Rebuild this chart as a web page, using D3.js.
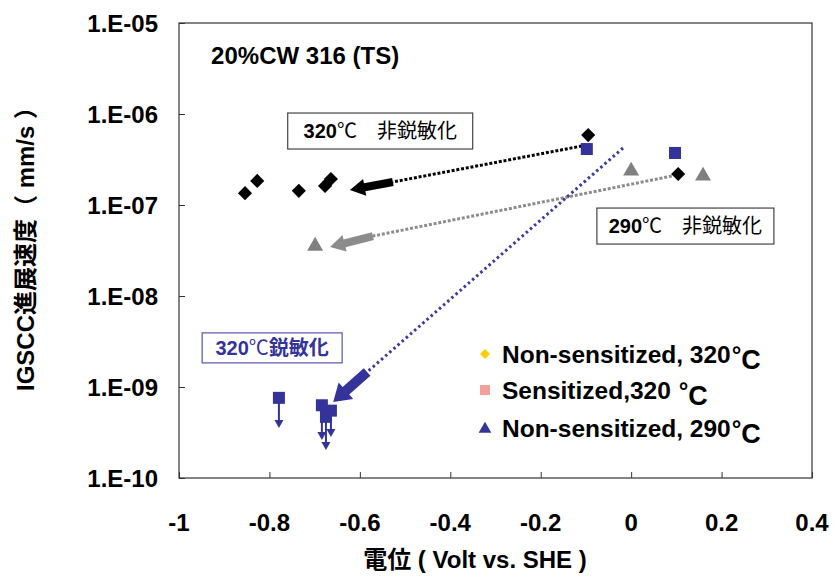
<!DOCTYPE html>
<html><head><meta charset="utf-8">
<script src="https://cdn.jsdelivr.net/npm/d3@7"></script>
<style>
html,body{margin:0;padding:0;background:#fff;}
text{font-family:"Liberation Sans",Arial,"Noto Sans CJK JP",sans-serif;}
</style></head>
<body><svg id="c" width="833" height="579"></svg>
<script>
// ---- data ----
const xTicks = [-1, -0.8, -0.6, -0.4, -0.2, 0, 0.2, 0.4];
const xTickLabels = ["-1", "-0.8", "-0.6", "-0.4", "-0.2", "0", "0.2", "0.4"];
const yTicks = [1e-5, 1e-6, 1e-7, 1e-8, 1e-9, 1e-10];
const yTickLabels = ["1.E-05", "1.E-06", "1.E-07", "1.E-08", "1.E-09", "1.E-10"];

// Non-sensitized 320C (potential V, rate mm/s)
const ns320 = [[-0.854, 1.35e-7], [-0.827, 1.84e-7], [-0.735, 1.43e-7], [-0.677, 1.62e-7], [-0.664, 1.93e-7], [-0.095, 5.87e-7], [0.104, 2.19e-7]];
// Sensitized 320C
const sens320 = [[-0.098, 4.12e-7], [0.097, 3.73e-7], [-0.779, 7.6e-10], [-0.684, 6.3e-10], [-0.675, 4.7e-10], [-0.664, 5.5e-10]];
// lower end of upper-limit arrows (null = no arrow)
const sens320ArrowTo = [null, null, 3.54e-10, 2.62e-10, 2.03e-10, 2.83e-10];
// Non-sensitized 290C
const ns290 = [[-0.699, 3.63e-8], [0.0, 2.43e-7], [0.159, 2.14e-7]];

// trend lines: dotted start, arrow tail, arrow tip
const trendNames = ["ns320", "ns290", "sens320"];
const trendStart = [[-0.109, 4.45e-7], [0.09, 2.08e-7], [-0.018, 4.23e-7]];
const trendTail = [[-0.527, 1.79e-7], [-0.571, 4.56e-8], [-0.584, 1.46e-9]];
const trendTip = [[-0.622, 1.46e-7], [-0.666, 3.45e-8], [-0.659, 6.84e-10]];

// annotation boxes
const boxCenters = [[-0.555, 6.5e-7], [0.120, 5.87e-8], [-0.794, 2.69e-9]];
const boxNum = ["320", "290", "320"];
const boxRest = ["\u3000非鋭敏化", "\u3000非鋭敏化", "鋭敏化"];

const titleText = "20%CW 316 (TS)";
const titlePos = [-0.929, 3.55e-6];
const legendLabels = ["Non-sensitized, 320", "Sensitized,320 ", "Non-sensitized, 290"];
const xTitle = "電位 ( Volt vs. SHE )";
const yTitle = "IGSCC進展速度（ mm/s ）";

// ---- layout ----
const L = 179, R = 812, T = 23, B = 478;
const svg = d3.select("#c");
svg.append("rect").attr("width", 833).attr("height", 579).attr("fill", "#fff");
const x = d3.scaleLinear().domain([-1, 0.4]).range([L, R]);
const y = d3.scaleLog().domain([1e-10, 1e-5]).range([B, T]);

const C = {ns320: "#000000", ns290: "#808080", sens320: "#333399"};
const trendColor = ["#000000", "#8c8c8c", "#3a3a9a"];

// frame
svg.append("rect").attr("x", L).attr("y", T).attr("width", R - L).attr("height", B - T)
  .attr("fill", "none").attr("stroke", "#333").attr("stroke-width", 1.2);

// axes (ticks inside)
const gx = svg.append("g").attr("transform", `translate(0,${B})`)
  .call(d3.axisTop(x).tickValues(xTicks).tickSize(6).tickFormat(""));
gx.select(".domain").remove();
gx.selectAll("line").attr("stroke", "#333");
svg.selectAll(".xl").data(xTicks).enter().append("text")
  .attr("x", d => x(d)).attr("y", 531).attr("text-anchor", "middle")
  .attr("font-size", 24).attr("font-weight", "bold").text((d, i) => xTickLabels[i]);

const gy = svg.append("g").attr("transform", `translate(${L},0)`)
  .call(d3.axisRight(y).tickValues(yTicks).tickSize(6).tickFormat(""));
gy.select(".domain").remove();
gy.selectAll("line").attr("stroke", "#333");
svg.selectAll(".yl").data(yTicks).enter().append("text")
  .attr("x", 158).attr("y", d => y(d) + 8.5).attr("text-anchor", "end")
  .attr("font-size", 24).attr("font-weight", "bold").text((d, i) => yTickLabels[i]);

// axis titles
svg.append("text").attr("x", 475).attr("y", 568).attr("text-anchor", "middle")
  .attr("font-size", 24).attr("font-weight", "bold").text(xTitle);
svg.append("text").attr("transform", "translate(34,243) rotate(-90)").attr("text-anchor", "middle")
  .attr("font-size", 24).attr("font-weight", "bold").text(yTitle);

// title
svg.append("text").attr("x", x(titlePos[0])).attr("y", y(titlePos[1]))
  .attr("font-size", 24).attr("font-weight", "bold").text(titleText);

// dotted trend lines
trendNames.forEach((n, i) => {
  svg.append("line")
    .attr("x1", x(trendStart[i][0])).attr("y1", y(trendStart[i][1]))
    .attr("x2", x(trendTail[i][0])).attr("y2", y(trendTail[i][1]))
    .attr("stroke", trendColor[i]).attr("stroke-width", 3)
    .attr("stroke-dasharray", i === 2 ? "2.5,3" : "3,1.8");
});

// markers
const diamond = d3.symbol().type(d3.symbolSquare).size(100);
svg.selectAll(".ns320").data(ns320).enter().append("path")
  .attr("d", diamond).attr("fill", C.ns320)
  .attr("transform", d => `translate(${x(d[0])},${y(d[1])}) rotate(45)`);

sens320.forEach((d, i) => {
  if (sens320ArrowTo[i] == null) return;
  const px = x(d[0]), py = y(d[1]), ty = y(sens320ArrowTo[i]);
  svg.append("line").attr("x1", px).attr("y1", py).attr("x2", px).attr("y2", ty - 7)
    .attr("stroke", C.sens320).attr("stroke-width", 2);
  svg.append("path").attr("d", `M${px - 4.5},${ty - 8}L${px + 4.5},${ty - 8}L${px},${ty}Z`)
    .attr("fill", C.sens320);
});
svg.selectAll(".s320").data(sens320).enter().append("rect")
  .attr("x", d => x(d[0]) - 6).attr("y", d => y(d[1]) - 6)
  .attr("width", 12).attr("height", 12).attr("fill", C.sens320);

svg.selectAll(".ns290").data(ns290).enter().append("path")
  .attr("d", d3.symbol().type(d3.symbolTriangle).size(110)).attr("fill", C.ns290)
  .attr("transform", d => `translate(${x(d[0])},${y(d[1]) + 1})`);

// thick arrows
function thickArrow(t, p, color, shaftW, headW, headL) {
  const x1 = x(t[0]), y1 = y(t[1]), x2 = x(p[0]), y2 = y(p[1]);
  const dx = x2 - x1, dy = y2 - y1, len = Math.hypot(dx, dy);
  const ux = dx / len, uy = dy / len, nx = -uy, ny = ux;
  const bx = x2 - ux * headL, by = y2 - uy * headL;
  const pts = [
    [x1 + nx * shaftW / 2, y1 + ny * shaftW / 2],
    [bx + nx * shaftW / 2, by + ny * shaftW / 2],
    [bx + nx * headW / 2, by + ny * headW / 2],
    [x2, y2],
    [bx - nx * headW / 2, by - ny * headW / 2],
    [bx - nx * shaftW / 2, by - ny * shaftW / 2],
    [x1 - nx * shaftW / 2, y1 - ny * shaftW / 2]
  ];
  svg.append("path").attr("d", "M" + pts.map(q => q.join(",")).join("L") + "Z").attr("fill", color);
}
thickArrow(trendTail[0], trendTip[0], "#000", 8, 17, 15);
thickArrow(trendTail[1], trendTip[1], "#8c8c8c", 8, 17, 15);
thickArrow(trendTail[2], trendTip[2], "#333399", 10, 22, 17);

// annotation boxes
const boxW = [185, 177, 140], boxH = [36, 36, 30];
boxCenters.forEach((c, i) => {
  const cx = x(c[0]), cy = y(c[1]);
  const blue = i === 2;
  svg.append("rect").attr("x", cx - boxW[i] / 2).attr("y", cy - boxH[i] / 2)
    .attr("width", boxW[i]).attr("height", boxH[i]).attr("fill", "#fff")
    .attr("stroke", blue ? "#5555aa" : "#444").attr("stroke-width", 1.2);
  const t = svg.append("text").attr("x", cx).attr("y", cy + 7).attr("text-anchor", "middle")
    .attr("font-size", 20).attr("fill", blue ? "#333399" : "#000");
  t.append("tspan").attr("font-weight", "bold").text(boxNum[i]);
  t.append("tspan").attr("font-family", "Noto Sans CJK JP").text("℃");
  t.append("tspan").attr("font-family", "Noto Sans CJK JP").attr("font-weight", blue ? "bold" : "normal").text(boxRest[i]);
});

// legend
const legY = [354, 390, 428];
const lg = svg.append("g");
lg.append("path").attr("d", d3.symbol().type(d3.symbolSquare).size(50)).attr("fill", "#FFCC00")
  .attr("transform", `translate(485,${legY[0]}) rotate(45)`);
lg.append("rect").attr("x", 480).attr("y", legY[1] - 5).attr("width", 10).attr("height", 10).attr("fill", "#F4A09A");
lg.append("path").attr("d", d3.symbol().type(d3.symbolTriangle).size(70)).attr("fill", "#333399")
  .attr("transform", `translate(485,${legY[2] + 1})`);
legendLabels.forEach((l, i) => {
  const t = lg.append("text").attr("x", 502).attr("y", legY[i] + 9).attr("font-size", 24.5).attr("font-weight", "bold");
  t.append("tspan").text(l);
  t.append("tspan").attr("font-size", 24).attr("dx", 1).text("°");
  t.append("tspan").attr("dy", 6).attr("font-size", 27).text("C");
});
</script></body></html>
